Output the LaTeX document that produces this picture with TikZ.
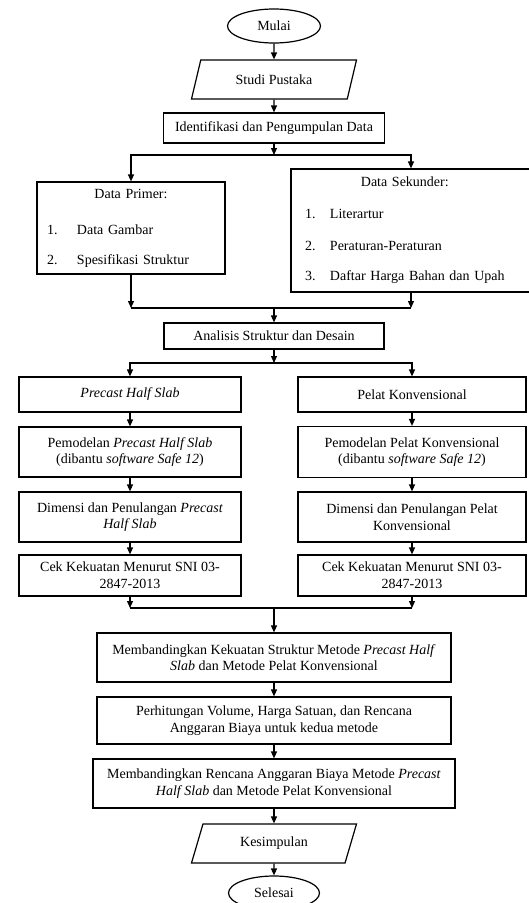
\documentclass[tikz,border=0pt]{standalone}
\usepackage{fontspec}
\setmainfont{Liberation Serif}
\usetikzlibrary{shapes.geometric,arrows.meta}
\tikzset{
  box/.style={draw, rectangle, align=center, inner sep=2pt},
  term/.style={draw, ellipse, inner sep=1pt},
  io/.style={draw, trapezium, trapezium left angle=52, trapezium right angle=128,
    trapezium stretches body, minimum height=39pt, minimum width=165pt, inner sep=1pt},
}
\begin{document}
\begin{tikzpicture}[x=1pt,y=-1pt,line width=1.2pt,>={Triangle[length=7pt,width=6pt]},
  every node/.style={font=\fontsize{14}{16.7}\selectfont}]
\path[use as bounding box, fill=white] (0,0) rectangle (529,903);
\node[term, minimum width=93pt, minimum height=34pt] (mulai) at (274,26) {Mulai};
\node[io] (studi) at (274,79.5) {Studi Pustaka};
\node[box, minimum width=221pt, minimum height=30pt] (ident) at (274,128) {Identifikasi dan Pengumpulan Data};
\node[box, minimum width=188pt, minimum height=92pt, text width=168pt, align=left] (primer) at (131,228)
  {\begin{tabular}{@{}p{30pt}@{}p{138pt}@{}}
   \multicolumn{2}{@{}c@{}}{Data Primer:}\\[19pt]
   1. & Data Gambar\\[13pt]
   2. & Spesifikasi Struktur
   \end{tabular}};
\node[box, minimum width=240pt, minimum height=123pt, text width=212pt, align=left] (sekunder) at (411,230.5)
  {\begin{tabular}{@{}p{25pt}@{}l@{}}
   \multicolumn{2}{@{}c@{}}{Data Sekunder:}\\[15pt]
   1. & Literartur\\[15pt]
   2. & Peraturan-Peraturan\\[14pt]
   3. & Daftar Harga Bahan dan Upah
   \end{tabular}};
\node[box, minimum width=220pt, minimum height=26pt] (analisis) at (274,336) {Analisis Struktur dan Desain};
% kolom kiri dan kanan
\node[box, minimum width=222pt, minimum height=35pt] (precast) at (130,394.5) {\textit{Precast Half Slab}};
\node[box, minimum width=228pt, minimum height=35pt] (pelat) at (412,394.5) {Pelat Konvensional};
\node[box, minimum width=222pt, minimum height=50pt] (pemodL) at (130,452)
  {Pemodelan \textit{Precast Half Slab}\\(dibantu \textit{software Safe 12})};
\node[box, minimum width=228pt, minimum height=51pt] (pemodR) at (412,452)
  {Pemodelan Pelat Konvensional\\(dibantu \textit{software Safe 12})};
\node[box, minimum width=222pt, minimum height=50pt] (dimL) at (130,517)
  {Dimensi dan Penulangan \textit{Precast}\\\textit{Half Slab}};
\node[box, minimum width=228pt, minimum height=50pt] (dimR) at (412,517)
  {Dimensi dan Penulangan Pelat\\Konvensional};
\node[box, minimum width=222pt, minimum height=41pt] (cekL) at (130,575.5)
  {Cek Kekuatan Menurut SNI 03-\\2847-2013};
\node[box, minimum width=228pt, minimum height=41pt] (cekR) at (412,575.5)
  {Cek Kekuatan Menurut SNI 03-\\2847-2013};
\node[box, minimum width=354pt, minimum height=49pt] (bandK) at (274,657.5)
  {Membandingkan Kekuatan Struktur Metode \textit{Precast Half}\\\textit{Slab} dan Metode Pelat Konvensional};
\node[box, minimum width=354pt, minimum height=47pt] (hitung) at (274,720.5)
  {Perhitungan Volume, Harga Satuan, dan Rencana\\Anggaran Biaya untuk kedua metode};
\node[box, minimum width=362pt, minimum height=49pt] (bandR) at (274,783.5)
  {Membandingkan Rencana Anggaran Biaya Metode \textit{Precast}\\\textit{Half Slab} dan Metode Pelat Konvensional};
\node[io] (kesim) at (274,843.5) {Kesimpulan};
\node[term, minimum width=91pt, minimum height=34pt] (selesai) at (274,893) {Selesai};
% titik cabang
\coordinate (jA) at (274,155);
\coordinate (jB) at (274,308);
\coordinate (jC) at (274,363);
\coordinate (jD) at (274,608);
\draw[->] (mulai) -- (studi);
\draw[->] (studi) -- (ident);
\draw[->] (ident) -- (jA);
\draw[->] (jA) -| (primer);
\draw[->] (jA) -| (sekunder);
\draw[->] (primer) -- (primer |- jB);
\draw[->] (sekunder) -- (sekunder |- jB);
\draw (primer |- jB) -- (sekunder |- jB);
\draw[->] (jB) -- (analisis);
\draw[->] (analisis) -- (jC);
\draw[->] (jC) -| (precast);
\draw[->] (jC) -| (pelat);
\foreach \a/\b in {precast/pemodL,pemodL/dimL,dimL/cekL,pelat/pemodR,pemodR/dimR,dimR/cekR}
  \draw[->] (\a) -- (\b);
\draw[->] (cekL) -- (cekL |- jD);
\draw[->] (cekR) -- (cekR |- jD);
\draw (cekL |- jD) -- (cekR |- jD);
\draw[->] (jD) -- (bandK);
\foreach \a/\b in {bandK/hitung,hitung/bandR,bandR/kesim,kesim/selesai}
  \draw[->] (\a) -- (\b);
\end{tikzpicture}
\end{document}
